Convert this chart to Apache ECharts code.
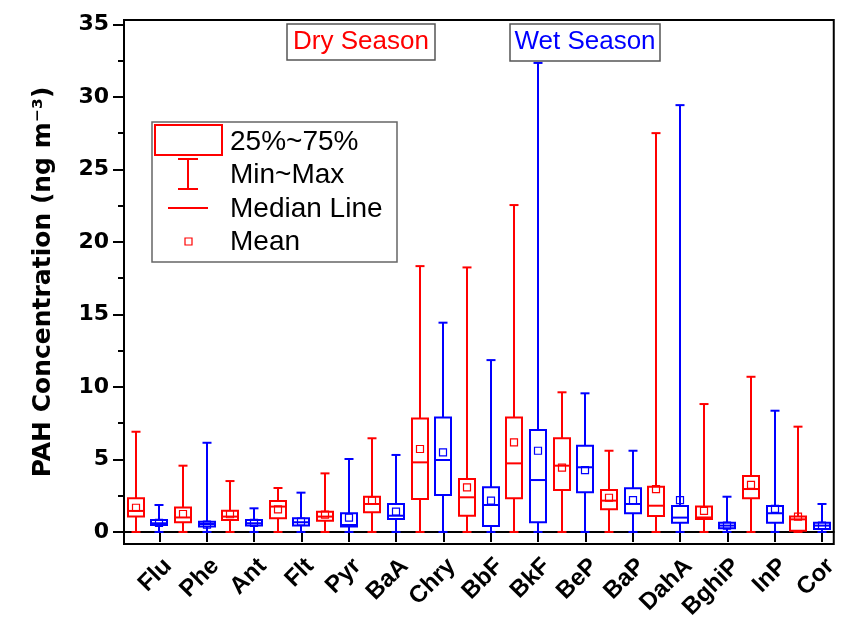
<!DOCTYPE html>
<html>
<head>
<meta charset="utf-8">
<script src="https://cdn.jsdelivr.net/npm/echarts@6/dist/echarts.min.js"></script>
<style>
  html, body { margin: 0; padding: 0; background: #fff; }
  #chart { width: 841px; height: 628px; }
</style>
</head>
<body>
<div id="chart"></div>
<script>
// PAH compounds shown along the x axis
const compounds = ['Flu', 'Phe', 'Ant', 'Flt', 'Pyr', 'BaA', 'Chry', 'BbF', 'BkF', 'BeP', 'BaP', 'DahA', 'BghiP', 'InP', 'Cor'];

// Dry season statistics (ng m-3)
const dryMin    = [0, 0, 0, 0, 0, 0, 0, 0, 0, 0, 0, 0, 0, 0, 0];
const dryQ1     = [1.06, 0.67, 0.83, 0.94, 0.78, 1.36, 2.27, 1.12, 2.32, 2.89, 1.56, 1.10, 0.90, 2.32, 0.09];
const dryMedian = [1.45, 1.00, 1.06, 1.75, 1.06, 1.93, 4.80, 2.39, 4.73, 4.57, 2.16, 1.81, 1.00, 2.96, 0.87];
const dryQ3     = [2.32, 1.68, 1.47, 2.14, 1.40, 2.43, 7.83, 3.65, 7.90, 6.46, 2.89, 3.12, 1.75, 3.86, 1.06];
const dryMax    = [6.91, 4.57, 3.51, 3.03, 4.04, 6.46, 18.33, 18.24, 22.54, 9.63, 5.60, 27.50, 8.82, 10.70, 7.26];
const dryMean   = [1.67, 1.24, 1.22, 1.56, 1.19, 2.16, 5.72, 3.08, 6.18, 4.43, 2.36, 2.96, 1.45, 3.24, 1.06];

// Wet season statistics (ng m-3)
const wetMin    = [0, 0, 0, 0, 0, 0, 0, 0, 0, 0, 0, 0, 0, 0, 0];
const wetQ1     = [0.48, 0.37, 0.44, 0.44, 0.37, 0.90, 2.55, 0.41, 0.67, 2.73, 1.29, 0.64, 0.25, 0.64, 0.21];
const wetMedian = [0.60, 0.55, 0.60, 0.67, 0.48, 1.12, 4.96, 1.86, 3.58, 4.46, 1.93, 0.99, 0.44, 1.29, 0.44];
const wetQ3     = [0.83, 0.71, 0.83, 0.94, 1.29, 1.93, 7.90, 3.08, 7.03, 5.95, 3.01, 1.79, 0.64, 1.79, 0.64];
const wetMax    = [1.86, 6.15, 1.63, 2.71, 5.03, 5.31, 14.43, 11.85, 32.34, 9.56, 5.60, 29.43, 2.43, 8.36, 1.93];
const wetMean   = [0.62, 0.50, 0.62, 0.72, 0.99, 1.40, 5.49, 2.16, 5.60, 4.27, 2.20, 2.20, 0.44, 1.59, 0.44];

// Y axis tick values
const yMajorTicks = [0, 5, 10, 15, 20, 25, 30, 35];
const yMinorTicks = [2.5, 7.5, 12.5, 17.5, 22.5, 27.5, 32.5];

const RED = '#ff0000';
const BLUE = '#0000ff';

// Two slots per compound: dry box first, wet box second (the labelled slot)
const slots = [];
compounds.forEach(function (c) { slots.push(c + ' (dry)'); slots.push(c); });

const boxData = [];
compounds.forEach(function (c, i) {
  boxData.push([2 * i, dryMin[i], dryQ1[i], dryMedian[i], dryQ3[i], dryMax[i], dryMean[i], 0]);
  boxData.push([2 * i + 1, wetMin[i], wetQ1[i], wetMedian[i], wetQ3[i], wetMax[i], wetMean[i], 1]);
});

function renderBox(params, api) {
  const x = api.value(0);
  const color = api.value(7) === 0 ? RED : BLUE;
  const pMin = api.coord([x, api.value(1)]);
  const pQ1 = api.coord([x, api.value(2)]);
  const pMed = api.coord([x, api.value(3)]);
  const pQ3 = api.coord([x, api.value(4)]);
  const pMax = api.coord([x, api.value(5)]);
  const pMean = api.coord([x, api.value(6)]);
  const cx = Math.round(pMin[0]);
  const bw = 16, cw = 9, ms = 7;
  const lineStyle = { stroke: color, lineWidth: 2, fill: null };
  return {
    type: 'group',
    children: [
      { type: 'line', shape: { x1: cx, y1: pMin[1], x2: cx, y2: pQ1[1] }, style: lineStyle },
      { type: 'line', shape: { x1: cx, y1: pQ3[1], x2: cx, y2: pMax[1] }, style: lineStyle },
      { type: 'line', shape: { x1: cx - cw / 2, y1: pMin[1], x2: cx + cw / 2, y2: pMin[1] }, style: lineStyle },
      { type: 'line', shape: { x1: cx - cw / 2, y1: pMax[1], x2: cx + cw / 2, y2: pMax[1] }, style: lineStyle },
      { type: 'rect', shape: { x: cx - bw / 2, y: pQ3[1], width: bw, height: pQ1[1] - pQ3[1] },
        style: { stroke: color, lineWidth: 2, fill: '#fff' } },
      { type: 'line', shape: { x1: cx - bw / 2, y1: pMed[1], x2: cx + bw / 2, y2: pMed[1] }, style: lineStyle },
      { type: 'rect', shape: { x: cx - ms / 2, y: pMean[1] - ms / 2, width: ms, height: ms },
        style: { stroke: color, lineWidth: 1.2, fill: null } }
    ]
  };
}

const chart = echarts.init(document.getElementById('chart'), null, { renderer: 'canvas' });

const axisFont = 'DejaVu Sans';
const labelFont = 'Liberation Sans';
const keyFont = '28px "Liberation Sans"';

chart.setOption({
  animation: false,
  backgroundColor: '#fff',
  grid: {
    left: 124, right: 6, top: 20, bottom: 84,
    show: true, borderColor: '#000', borderWidth: 2, backgroundColor: 'transparent'
  },
  xAxis: {
    type: 'category',
    data: slots,
    boundaryGap: true,
    axisLine: { show: true, lineStyle: { color: '#000', width: 2 } },
    axisTick: {
      show: true, alignWithLabel: true, length: 10,
      lineStyle: { color: '#000', width: 2 },
      interval: function (index) { return index % 2 === 1; }
    },
    axisLabel: {
      interval: function (index) { return index % 2 === 1; },
      rotate: 45, margin: 10, verticalAlign: 'top',
      fontFamily: labelFont, fontWeight: 'bold', fontSize: 24, color: '#000',
      formatter: function (v) { return v; }
    },
    splitLine: { show: false }
  },
  yAxis: [
    {
      type: 'value', min: -0.83, max: 35.3,
      name: 'PAH Concentration (ng m\u207B\u00B3)',
      nameLocation: 'middle', nameGap: 68,
      nameTextStyle: { fontFamily: axisFont, fontWeight: 'bold', fontSize: 25, color: '#000' },
      axisLine: { show: true, lineStyle: { color: '#000', width: 2 } },
      axisTick: { show: true, length: 11, lineStyle: { color: '#000', width: 2 }, customValues: yMajorTicks },
      axisLabel: { customValues: yMajorTicks, margin: 15, fontFamily: axisFont, fontWeight: 'bold', fontSize: 22, color: '#000' },
      splitLine: { show: false }
    },
    {
      type: 'value', min: -0.83, max: 35.3, position: 'left',
      axisLine: { show: false },
      axisTick: { show: true, length: 6, lineStyle: { color: '#000', width: 2 }, customValues: yMinorTicks },
      axisLabel: { show: false },
      splitLine: { show: false }
    }
  ],
  series: [{
    type: 'custom',
    renderItem: renderBox,
    data: boxData,
    encode: { x: 0, y: [1, 2, 3, 4, 5, 6] },
    clip: false,
    z: 5
  }],
  graphic: [
    // season tags
    { type: 'rect', z: 10, shape: { x: 287, y: 24, width: 148, height: 36 },
      style: { fill: '#fff', stroke: '#555', lineWidth: 1.5 } },
    { type: 'text', z: 11, x: 361, y: 42,
      style: { text: 'Dry Season', fill: RED, font: '26px "Liberation Sans"', align: 'center', verticalAlign: 'middle' } },
    { type: 'rect', z: 10, shape: { x: 510, y: 24, width: 150, height: 37 },
      style: { fill: '#fff', stroke: '#555', lineWidth: 1.5 } },
    { type: 'text', z: 11, x: 585, y: 42,
      style: { text: 'Wet Season', fill: BLUE, font: '26px "Liberation Sans"', align: 'center', verticalAlign: 'middle' } },
    // key
    { type: 'rect', z: 10, shape: { x: 152, y: 122, width: 245, height: 140 },
      style: { fill: '#fff', stroke: '#666', lineWidth: 1.5 } },
    { type: 'rect', z: 11, shape: { x: 155, y: 125, width: 67, height: 30 },
      style: { fill: null, stroke: RED, lineWidth: 2 } },
    { type: 'line', z: 11, shape: { x1: 188, y1: 159, x2: 188, y2: 189 }, style: { stroke: RED, lineWidth: 2 } },
    { type: 'line', z: 11, shape: { x1: 178, y1: 159, x2: 198, y2: 159 }, style: { stroke: RED, lineWidth: 2 } },
    { type: 'line', z: 11, shape: { x1: 178, y1: 189, x2: 198, y2: 189 }, style: { stroke: RED, lineWidth: 2 } },
    { type: 'line', z: 11, shape: { x1: 168, y1: 208, x2: 208, y2: 208 }, style: { stroke: RED, lineWidth: 2 } },
    { type: 'rect', z: 11, shape: { x: 185, y: 238, width: 7, height: 7 },
      style: { fill: null, stroke: RED, lineWidth: 1.2 } },
    { type: 'text', z: 11, x: 230, y: 142,
      style: { text: '25%~75%', fill: '#000', font: keyFont, verticalAlign: 'middle' } },
    { type: 'text', z: 11, x: 230, y: 175,
      style: { text: 'Min~Max', fill: '#000', font: keyFont, verticalAlign: 'middle' } },
    { type: 'text', z: 11, x: 230, y: 209,
      style: { text: 'Median Line', fill: '#000', font: keyFont, verticalAlign: 'middle' } },
    { type: 'text', z: 11, x: 230, y: 242,
      style: { text: 'Mean', fill: '#000', font: keyFont, verticalAlign: 'middle' } }
  ]
});
</script>
</body>
</html>
